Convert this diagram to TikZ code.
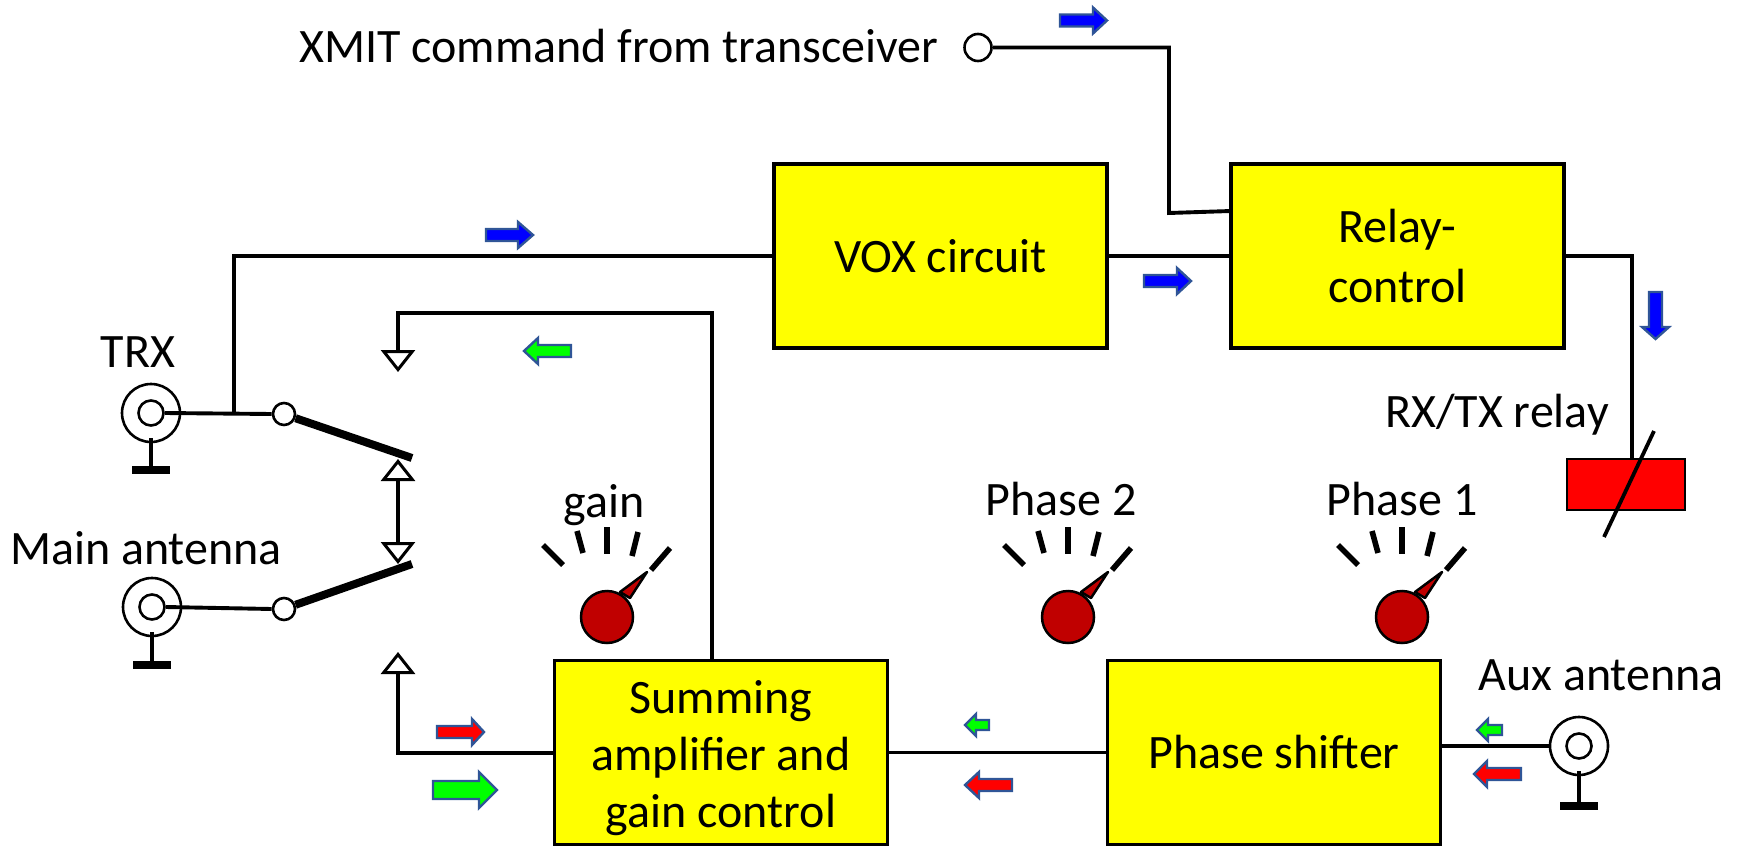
\documentclass[tikz,border=0pt]{standalone}
\usepackage{fontspec}
\setmainfont{Carlito}
\usetikzlibrary{arrows.meta}
\definecolor{arrowedge}{HTML}{2F5597}
\definecolor{knobred}{HTML}{C00000}
\definecolor{boxyellow}{HTML}{FFFF00}
\definecolor{purered}{HTML}{FF0000}
\definecolor{puregreen}{HTML}{00FF00}
\definecolor{pureblue}{HTML}{0000FF}
\newcommand{\hflow}[7]{% colour, tail x, head-base x, tip x, y, shaft half, head half
  \draw[flowarrow,fill=#1] (#2,#5-#6) -- (#3,#5-#6) -- (#3,#5-#7) -- (#4,#5) -- (#3,#5+#7) -- (#3,#5+#6) -- (#2,#5+#6) -- cycle;}
\tikzset{
  wire/.style={line width=1.95pt,black},
  thickwire/.style={line width=4pt,black},
  block/.style={draw=black,line width=1.6pt,fill=boxyellow,minimum width=166.5pt,minimum height=92pt,inner sep=0pt,align=center,font=\fontsize{24}{30}\selectfont},
  lbl/.style={anchor=base,inner sep=0pt,font=\fontsize{24}{28}\selectfont},
  ring/.style={circle,draw=black,line width=1.3pt,fill=white,minimum size=#1,inner sep=0pt},
  flowarrow/.style={draw=arrowedge,line width=1.2pt,line join=miter},
  tritip/.tip={Triangle[open,length=11pt,width=17pt,line width=1.5pt]},
  knob/.pic={
    \draw[line width=1.25pt,fill=knobred,line join=round] (13,-25) -- (40,-45) -- (23,-19) -- cycle;
    \draw[line width=1.25pt,fill=knobred] (0,0) circle (26);
    \foreach \a/\b/\c/\d in {-64/-72/-44/-52,-30/-86/-24/-64,0/-90/0/-63,31/-85/25/-61,63/-69/44/-47}
      \draw[line width=2.8pt] (\a,\b) -- (\c,\d);
  }
}
\begin{document}
\begin{tikzpicture}[x=0.5pt,y=-0.5pt]
\useasboundingbox (0,0) rectangle (1738,845);
% blocks
\node[block] (vox) at (940.5,256) {VOX circuit};
\node[block] (relay) at (1397.5,256) {Relay-\\control};
\node[block,font=\fontsize{24}{28.6}\selectfont] (sum) at (721,752.5) {\rule{0pt}{22pt}Summing\\amplifier and\\gain control};
\node[block] (phase) at (1274,752.5) {Phase shifter};
\node[draw=black,line width=1.4pt,fill=purered,minimum width=59pt,minimum height=25.5pt,inner sep=0pt] (coil) at (1626,484.5) {};
% antennas
\foreach \n/\x/\y/\e in {trx/151/413/466,main/152/607/661,aux/1579/746/802}{
  \node[ring=29pt] (\n) at (\x,\y) {};
  \node[ring=12.5pt] (\n-in) at (\x,\y) {};
  \coordinate (\n-g) at (\x,\y+25);
  \coordinate (\n-b) at (\x,\e);
  \draw[wire] (\n-g) -- (\n-b);
  \fill ([xshift=-9.5pt]\n-b) rectangle ([xshift=9.5pt,yshift=-4pt]\n-b);
}
% contacts and connection points
\node[ring=11pt] (ctrx) at (284,414) {};
\node[ring=11pt] (cmain) at (284,609) {};
\node[ring=13.5pt] (xmit) at (978,47.5) {};
\coordinate (jtrx) at (234,413);
\coordinate (armA) at (412,458);
\coordinate (armB) at (412,564);
\coordinate (sumtop) at (712,661);
\coordinate (topcorner) at (712,313);
\coordinate (topbend) at (398,313);
\coordinate (topend) at (398,372);
\coordinate (midup) at (398,459);
\coordinate (middown) at (398,564);
\coordinate (lowup) at (398,652);
\coordinate (lowbend) at (398,753);
\coordinate (xb) at (1169,213);
\coordinate (xr) at (1231,211);
\coordinate (coiltop) at (1632,459);
\coordinate (slashA) at (1654,431);
\coordinate (slashB) at (1604,537);
% connectors
\draw[wire] (trx-in.east) -- (ctrx.west);
\draw[wire] (main-in.east) -- (cmain.west);
\draw[wire] (jtrx) |- (vox.west);
\draw[thickwire] (ctrx.-20) -- (armA);
\draw[thickwire] (cmain.20) -- (armB);
\draw[wire,-{tritip}] (sumtop) -- (topcorner) -- (topbend) -- (topend);
\draw[wire,{tritip}-{tritip}] (midup) -- (middown);
\draw[wire,-{tritip}] (sum.west |- lowbend) -- (lowbend) -- (lowup);
\draw[wire] (phase.west) -- (sum.east);
\draw[wire] (aux.west) -- (phase.east |- aux.west);
\draw[wire] (xmit.east) -| (xb) -- (xr);
\draw[wire] (vox.east) -- (relay.west);
\draw[wire] (relay.east) -| (coiltop);
\draw[line width=1.9pt] (slashA) -- (slashB);
% knobs
\pic at (607,617) {knob};
\pic at (1068,617) {knob};
\pic at (1402,617) {knob};
% labels
\node[lbl,anchor=base east] (lx) at (939,63) {XMIT command from transceiver};
\node[lbl] (ltrx) at (138,367) {TRX};
\node[lbl] (lmain) at (146,564) {Main antenna};
\node[lbl] (laux) at (1601,690) {Aux antenna};
\node[lbl] (lrel) at (1497,427) {RX/TX relay};
\node[lbl] (lg) at (604,517) {gain};
\node[lbl] (lp2) at (1061,515) {Phase 2};
\node[lbl] (lp1) at (1402,515) {Phase 1};
% flow arrows
\hflow{pureblue}{1060}{1093}{1107}{20.5}{6}{13}
\hflow{pureblue}{486}{518}{533}{235}{6}{13}
\hflow{pureblue}{1144}{1177}{1191}{281}{6}{13}
\hflow{puregreen}{571}{538}{524}{351}{6}{13}
\hflow{purered}{437}{472}{484}{732}{6}{13}
\hflow{puregreen}{433}{479}{497}{790}{9}{18}
\hflow{puregreen}{989}{976}{965}{725}{5}{11}
\hflow{purered}{1012}{979}{965}{785}{6}{13}
\hflow{puregreen}{1502}{1488}{1477}{730}{5}{11}
\hflow{purered}{1521}{1487}{1474}{774}{6}{13}
\draw[flowarrow,fill=pureblue] (1649,292) -- (1662,292) -- (1662,327) -- (1669,327) -- (1655.5,339) -- (1642,327) -- (1649,327) -- cycle;
\end{tikzpicture}
\end{document}
